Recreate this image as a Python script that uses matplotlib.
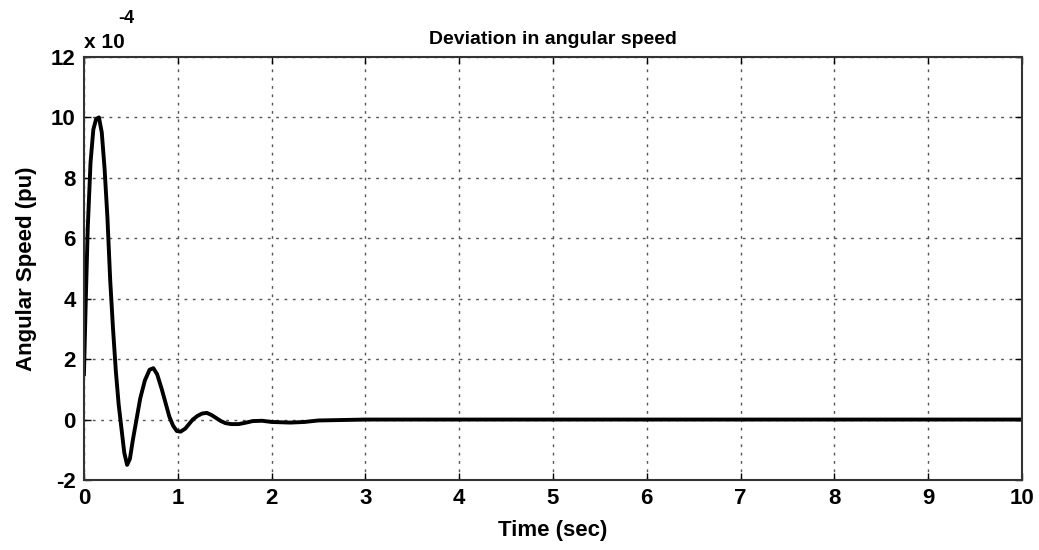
import matplotlib.pyplot as plt
from matplotlib.ticker import MultipleLocator, FuncFormatter

# time (sec) and angular speed deviation (x 1e-4 pu)
time = [0.00, 0.02, 0.04, 0.07, 0.10, 0.13, 0.16, 0.19, 0.22, 0.25, 0.28,
        0.31, 0.34, 0.37, 0.40, 0.43, 0.46, 0.49, 0.52, 0.56, 0.60, 0.65,
        0.70, 0.74, 0.78, 0.83, 0.87, 0.91, 0.95, 0.99, 1.03, 1.08, 1.12,
        1.16, 1.21, 1.26, 1.31, 1.36, 1.41, 1.46, 1.51, 1.57, 1.65, 1.73,
        1.80, 1.90, 2.00, 2.20, 2.35, 2.50, 3.00, 10.00]
speed = [1.5, 4.0, 6.3, 8.5, 9.6, 9.95, 10.0, 9.5, 8.3, 6.7, 4.6,
         3.0, 1.6, 0.5, -0.3, -1.1, -1.5, -1.3, -0.7, 0.0, 0.7, 1.3,
         1.65, 1.7, 1.5, 1.0, 0.55, 0.1, -0.2, -0.38, -0.4, -0.3, -0.15,
         0.0, 0.12, 0.2, 0.22, 0.15, 0.05, -0.05, -0.12, -0.15, -0.15, -0.1,
         -0.05, -0.04, -0.08, -0.1, -0.08, -0.03, 0.0, 0.0]

plt.rcParams['font.family'] = ['Liberation Sans', 'DejaVu Sans']
plt.rcParams['font.weight'] = 'bold'

fig = plt.figure(figsize=(10.39, 5.5), dpi=100)
ax = fig.add_axes([0.0808, 0.1273, 0.9028, 0.7691])

ax.plot(time, speed, color='black', linewidth=2.8, solid_joinstyle='round')

ax.set_xlim(0, 10)
ax.set_ylim(-2, 12)
ax.xaxis.set_major_locator(MultipleLocator(1))
ax.yaxis.set_major_locator(MultipleLocator(2))
ax.yaxis.set_major_formatter(FuncFormatter(lambda v, p: '%d' % v))
ax.grid(True, linestyle=(0, (2, 4)), color='#555555', linewidth=1.0)
ax.tick_params(direction='in', length=5, width=1, top=True, right=True,
               labelsize=16, pad=6)
for lbl in ax.get_xticklabels() + ax.get_yticklabels():
    lbl.set_fontweight('bold')
for sp in ax.spines.values():
    sp.set_linewidth(1.5)
    sp.set_color('#333333')

ax.set_xlabel('Time (sec)', fontsize=16, fontweight='bold', labelpad=8)
ax.set_ylabel('Angular Speed (pu)', fontsize=16, fontweight='bold', labelpad=10)
ax.set_title('Deviation in angular speed', fontsize=14, fontweight='bold', pad=9)

fig.text(0.081, 0.913, 'x 10', fontsize=15, fontweight='bold')
fig.text(0.114, 0.958, '-4', fontsize=13, fontweight='bold')

fig.savefig('out.png', dpi=100)
